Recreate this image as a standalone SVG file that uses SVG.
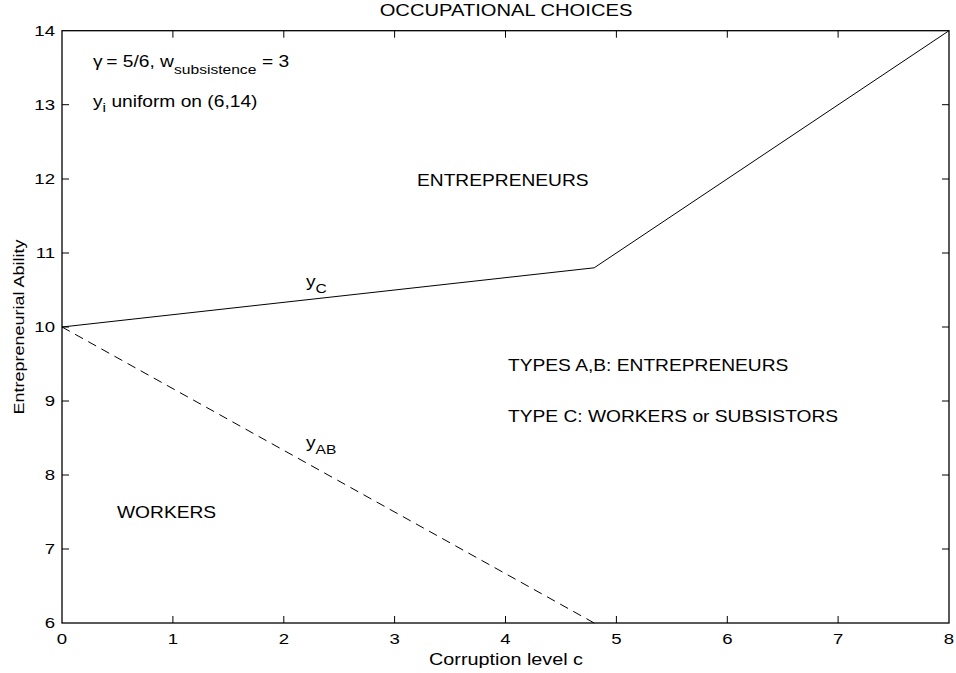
<svg xmlns="http://www.w3.org/2000/svg" width="956" height="673" viewBox="0 0 956 673">
<style>
text{font-family:"Liberation Sans",Arial,sans-serif;font-size:16px;fill:#000}
.ax{fill:none;stroke:#000;stroke-width:1.3}
.tk{stroke:#000;stroke-width:1}
.ln{fill:none;stroke:#000;stroke-width:1}
.yl{text-anchor:end;font-size:15.5px}
.xl{text-anchor:middle;font-size:15.5px}
.sub{font-size:13px}
</style>
<rect width="956" height="673" fill="#fff"/>
<g id="axes">
<rect class="ax" x="62" y="30.7" width="887" height="592.3"/>
<g id="ticks">
<path class="tk" d="M172.9,623v-7M283.8,623v-7M394.6,623v-7M505.5,623v-7M616.4,623v-7M727.3,623v-7M838.1,623v-7M172.9,30.7v7M283.8,30.7v7M394.6,30.7v7M505.5,30.7v7M616.4,30.7v7M727.3,30.7v7M838.1,30.7v7M62,549h7M62,475h7M62,401h7M62,327h7M62,253h7M62,179h7M62,104.7h7M949,549h-7M949,475h-7M949,401h-7M949,327h-7M949,253h-7M949,179h-7M949,104.7h-7"/>
</g>
<g id="ylabels">
<text class="yl" transform="translate(55,628) scale(1.2,1)">6</text>
<text class="yl" transform="translate(55,554) scale(1.2,1)">7</text>
<text class="yl" transform="translate(55,480) scale(1.2,1)">8</text>
<text class="yl" transform="translate(55,406) scale(1.2,1)">9</text>
<text class="yl" transform="translate(55,332) scale(1.2,1)">10</text>
<text class="yl" transform="translate(55,258) scale(1.2,1)">11</text>
<text class="yl" transform="translate(55,184) scale(1.2,1)">12</text>
<text class="yl" transform="translate(55,110) scale(1.2,1)">13</text>
<text class="yl" transform="translate(55,36) scale(1.2,1)">14</text>
</g>
<g id="xlabels">
<text class="xl" transform="translate(62,644) scale(1.2,1)">0</text>
<text class="xl" transform="translate(172.9,644) scale(1.2,1)">1</text>
<text class="xl" transform="translate(283.8,644) scale(1.2,1)">2</text>
<text class="xl" transform="translate(394.6,644) scale(1.2,1)">3</text>
<text class="xl" transform="translate(505.5,644) scale(1.2,1)">4</text>
<text class="xl" transform="translate(616.4,644) scale(1.2,1)">5</text>
<text class="xl" transform="translate(727.3,644) scale(1.2,1)">6</text>
<text class="xl" transform="translate(838.1,644) scale(1.2,1)">7</text>
<text class="xl" transform="translate(949,644) scale(1.2,1)">8</text>
</g>
<text transform="translate(506,16) scale(1.2,1)" text-anchor="middle" style="font-size:16.8px">OCCUPATIONAL CHOICES</text>
<text transform="translate(506,665) scale(1.2,1)" text-anchor="middle" style="font-size:16.5px">Corruption level c</text>
<text transform="translate(24,327) rotate(-90) scale(1.2,1)" text-anchor="middle" style="font-size:15px">Entrepreneurial Ability</text>
</g>
<g id="connectors">
<polyline id="yC" class="ln" points="62,327 594.2,267.8 949,30.7"/>
<line id="yAB" class="ln" x1="62" y1="327" x2="594.2" y2="623" stroke-dasharray="9,6"/>
</g>
<g id="labels">
<text transform="translate(93,67) scale(1.2,1)">γ<tspan dx="3">= 5/6, w</tspan></text>
<text class="sub" transform="translate(174,74) scale(1.2,1)">subsistence</text>
<text transform="translate(262,67) scale(1.2,1)"> = 3</text>
<text transform="translate(93,107) scale(1.2,1)">y<tspan class="sub" dy="5">i</tspan><tspan dy="-5"> uniform on (6,14)</tspan></text>
<text transform="translate(417,186) scale(1.2,1)">ENTREPRENEURS</text>
<text transform="translate(508,371) scale(1.2,1)">TYPES A,B: ENTREPRENEURS</text>
<text transform="translate(508,422) scale(1.2,1)">TYPE C: WORKERS or SUBSISTORS</text>
<text transform="translate(117,518) scale(1.2,1)">WORKERS</text>
<text transform="translate(306,287) scale(1.2,1)">y<tspan class="sub" dy="6">C</tspan></text>
<text transform="translate(306,448) scale(1.2,1)">y<tspan class="sub" dy="6">AB</tspan></text>
</g>
</svg>
